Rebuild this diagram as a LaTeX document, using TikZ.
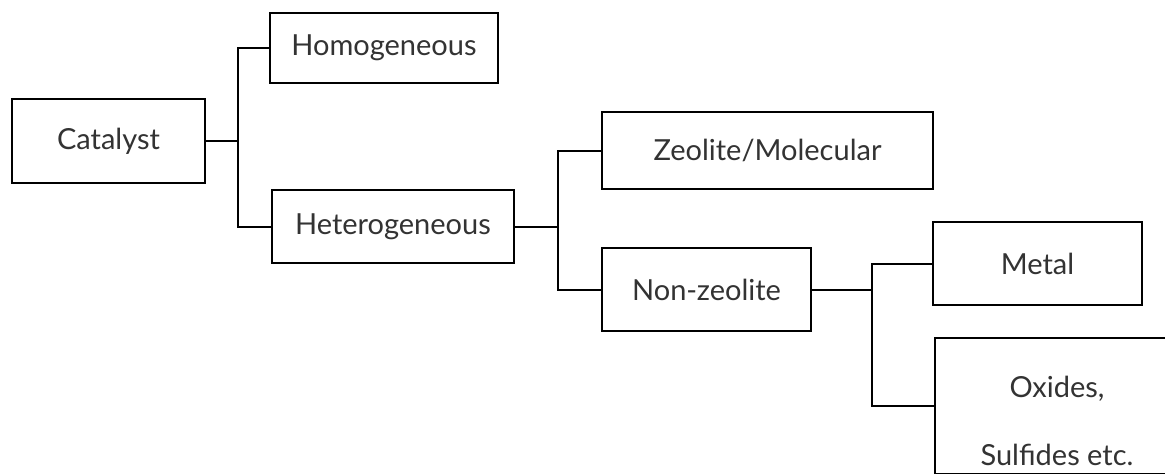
\documentclass[tikz,border=0pt]{standalone}
\usepackage{fontspec}
\setmainfont{Lato}
\begin{document}
\begin{tikzpicture}[x=1pt,y=-1pt,
  box/.style={draw=black,line width=2pt,fill=white,inner sep=0pt,align=center,
    font=\fontsize{29}{33}\selectfont,text=black!80},
  link/.style={draw=black,line width=2pt}]
  \clip (0,0) rectangle (1165,474);
  \fill[white] (0,0) rectangle (1165,474);

  % tree of catalyst classes
  \node[box,minimum width=193pt,minimum height=84pt] (cat)   at (108.5,141) {Catalyst};
  \node[box,minimum width=228pt,minimum height=70pt] (homo)  at (384,48)    {Homogeneous};
  \node[box,minimum width=242pt,minimum height=73pt] (het)   at (393,226.5) {Heterogeneous};
  \node[box,minimum width=331pt,minimum height=77pt] (zeo)   at (767.5,150.5) {Zeolite/Molecular};
  \node[box,minimum width=209pt,minimum height=83pt] (nonz)  at (706.5,289.5) {Non-zeolite};
  \node[box,minimum width=209pt,minimum height=83pt] (metal) at (1037.5,263.5) {Metal};
  \node[box,minimum width=244pt,minimum height=136pt] (oxi)  at (1057,406) {};
  \node[font=\fontsize{29}{68}\selectfont,text=black!80,align=center,inner sep=0pt]
    (oxitext) at (1057,421) {Oxides,\\Sulfides etc.};

  % bracket connectors
  \coordinate (j1) at (238,141);
  \coordinate (j2) at (558,226.5);
  \coordinate (j3) at (872,289.5);
  \draw[link] (cat.east) -- (j1);
  \draw[link] (j1) |- (homo.west);
  \draw[link] (j1) |- (het.west);
  \draw[link] (het.east) -- (j2);
  \draw[link] (j2) |- (zeo.west);
  \draw[link] (j2) |- (nonz.west);
  \draw[link] (nonz.east) -- (j3);
  \draw[link] (j3) |- (metal.west);
  \draw[link] (j3) |- (oxi.west);
\end{tikzpicture}
\end{document}
